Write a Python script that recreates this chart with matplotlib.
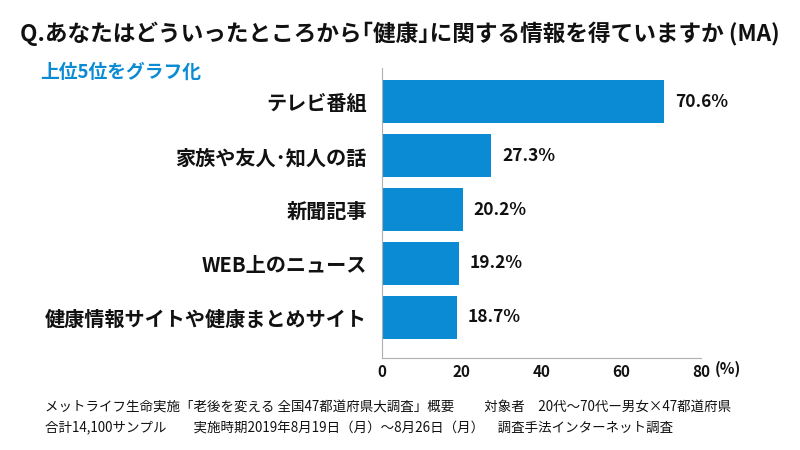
import matplotlib

matplotlib.use("Agg")
import matplotlib.pyplot as plt

plt.rcParams["font.family"] = ["Noto Sans CJK JP", "DejaVu Sans"]

BLUE = "#0a8bd3"
INK = "#111111"
AXIS = "#b0b0b0"

title = "Q.あなたはどういったところから｢健康｣に関する情報を得ていますか (MA)"
subtitle = "上位5位をグラフ化"
categories = ["テレビ番組", "家族や友人･知人の話", "新聞記事", "WEB上のニュース",
              "健康情報サイトや健康まとめサイト"]
values = [70.6, 27.3, 20.2, 19.2, 18.7]
xticks = [0, 20, 40, 60, 80]
footer = [
    "メットライフ生命実施「老後を変える 全国47都道府県大調査」概要 　　対象者　20代～70代ー男女×47都道府県",
    "合計14,100サンプル　　実施時期2019年8月19日（月）～8月26日（月）　調査手法インターネット調査",
]

fig = plt.figure(figsize=(8, 4.5), dpi=100, facecolor="white")
ax = fig.add_axes([0.4775, 0.2044, 0.399, 0.6444])

pos = list(range(len(categories)))
ax.barh(pos, values, height=0.8, color=BLUE)
ax.set_ylim(4.76, -0.63)
ax.set_xlim(0, 80)

for p, v in zip(pos, values):
    ax.annotate(f"{v:.1f}%", (v, p), textcoords="offset points", xytext=(8, 0),
                va="center", ha="left", fontsize=12.5, fontweight="bold", color=INK)

ax.set_yticks(pos)
ax.set_yticklabels(categories, fontsize=14.5, fontweight="bold", color=INK)
ax.set_xticks(xticks)
ax.set_xticklabels([str(t) for t in xticks], fontsize=11, fontweight="bold", color=INK)
ax.tick_params(axis="both", length=0)
ax.tick_params(axis="y", pad=11)
ax.tick_params(axis="x", pad=4)
for side in ("top", "right"):
    ax.spines[side].set_visible(False)
for side in ("left", "bottom"):
    ax.spines[side].set_color(AXIS)
    ax.spines[side].set_linewidth(0.8)

fig.text(0.893, 0.18, "(%)", fontsize=11, fontweight="bold", color=INK,
         ha="left", va="center")

fig.text(0.5, 0.925, title, fontsize=16.3, fontweight="bold", color=INK,
         ha="center", va="center")
fig.text(0.05, 0.84, subtitle, fontsize=13.5, fontweight="bold", color=BLUE,
         ha="left", va="center")

fig.text(0.056, 0.095, footer[0], fontsize=9.7, color=INK, ha="left", va="center")
fig.text(0.056, 0.048, footer[1], fontsize=9.7, color=INK, ha="left", va="center")

fig.savefig("out.png", dpi=100, facecolor="white")
